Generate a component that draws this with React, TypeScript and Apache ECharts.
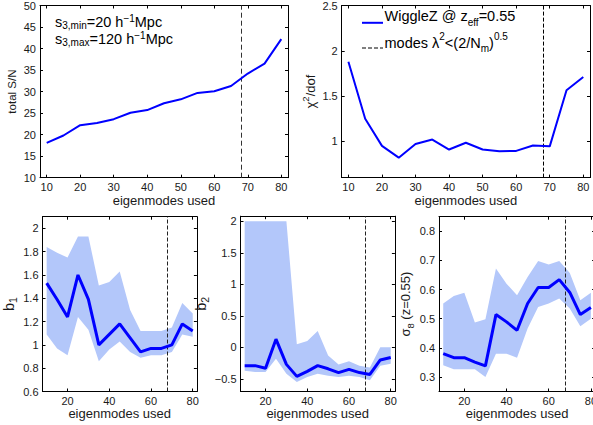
import { useEffect, useRef } from "react";
import * as echarts from "echarts";

// ---------- data ----------
const modes = [10, 15, 20, 25, 30, 35, 40, 45, 50, 55, 60, 65, 70, 75, 80];
const totalSN = [18.1, 19.8, 22.2, 22.7, 23.6, 25.1, 25.7, 27.3, 28.2, 29.7, 30.1, 31.3, 34.2, 36.5, 42.2];
const chi2dof = [1.88, 1.25, 0.95, 0.82, 0.97, 1.02, 0.91, 0.985, 0.91, 0.89, 0.895, 0.955, 0.945, 1.565, 1.71];

const b1 = [1.53, 1.39, 1.24, 1.6, 1.39, 1.0, 1.09, 1.18, 1.06, 0.94, 0.97, 0.97, 1.0, 1.18, 1.12];
const b1Upper = [1.84, 1.79, 1.75, 1.93, 1.93, 1.51, 1.54, 1.63, 1.3, 1.12, 1.12, 1.12, 1.15, 1.36, 1.27];
const b1Lower = [1.09, 0.97, 0.91, 1.24, 1.13, 0.86, 0.96, 1.03, 0.94, 0.89, 0.91, 0.91, 0.94, 1.09, 1.07];

const b2 = [-0.29, -0.29, -0.33, 0.13, -0.27, -0.46, -0.38, -0.29, -0.34, -0.4, -0.35, -0.4, -0.43, -0.2, -0.16];
const b2Upper = [2, 2, 2, 2, 2, 0.05, 0.1, 0.26, -0.13, -0.27, -0.22, -0.29, -0.32, 0, 0];
const b2Lower = [-0.37, -0.39, -0.39, -0.18, -0.42, -0.55, -0.47, -0.42, -0.45, -0.47, -0.45, -0.47, -0.52, -0.29, -0.26];

const sigma8 = [0.38, 0.366, 0.366, 0.351, 0.338, 0.514, 0.489, 0.46, 0.552, 0.607, 0.607, 0.634, 0.59, 0.514, 0.538];
const s8Upper = [0.552, 0.578, 0.589, 0.487, 0.498, 0.672, 0.62, 0.58, 0.643, 0.698, 0.686, 0.698, 0.657, 0.563, 0.589];
const s8Lower = [0.34, 0.326, 0.326, 0.326, 0.3, 0.38, 0.38, 0.366, 0.466, 0.54, 0.552, 0.569, 0.535, 0.474, 0.5];

const modeCut = 68;

const xTicksTop = [10, 20, 30, 40, 50, 60, 70, 80];
const xTicksBottom = [20, 40, 60, 80];
const snTicks = [10, 15, 20, 25, 30, 35, 40, 45, 50];
const chiTicks = [1, 1.5, 2, 2.5];
const b1Ticks = [0.6, 0.8, 1, 1.2, 1.4, 1.6, 1.8, 2];
const b2Ticks = [-0.5, 0, 0.5, 1, 1.5, 2];
const s8Ticks = [0.3, 0.4, 0.5, 0.6, 0.7, 0.8];

// ---------- styling ----------
const FONT = "'Liberation Sans', Arial, Helvetica, sans-serif";
const TXT = "#1a1a1a";
const BLUE = "#0000ff";
const BAND = "#b3c7fa";

// rich-text styles with sub/superscripts: main line height L, sub/sup token heights place them
const makeRich = (F: number, S: number, L: number, subH: number, supH: number) => ({
  a: { fontSize: F, fontFamily: FONT, color: TXT, lineHeight: L, verticalAlign: "middle" },
  sub: { fontSize: S, fontFamily: FONT, color: TXT, lineHeight: subH, verticalAlign: "bottom" },
  sup: { fontSize: S, fontFamily: FONT, color: TXT, lineHeight: supH, verticalAlign: "top" },
});
const richNote = makeRich(14.5, 10, 22, 10, 12);
const richNote2 = makeRich(14.5, 10, 17, 5, 7);
const richAxis = makeRich(13, 9.5, 20, 9.2, 8.8);
const richAxisB = makeRich(14.5, 10.5, 20, 9.2, 8.8);
const richAxisSmall = makeRich(11.5, 9, 16, 8, 8);

const pairs = (ys: number[]) => modes.map((m, k) => [m, ys[k]]);
const fmt = (v: number) => String(v).replace("-", "\u2212");

type Panel = {
  grid: { left: number; top: number; width: number; height: number };
  xTicks: number[];
  yMin: number;
  yMax: number;
  yTicks: number[];
  yName: string;
  yRich: any;
  yNameGap: number;
  xNameGap: number;
};

const panels: Panel[] = [
  { grid: { left: 40, top: 4, width: 248, height: 173.7 }, xTicks: xTicksTop, yMin: 10, yMax: 50, yTicks: snTicks, yName: "{a|total S/N}", yRich: richAxisSmall, yNameGap: 20, xNameGap: 14 },
  { grid: { left: 341.7, top: 4.3, width: 248.3, height: 173.3 }, xTicks: xTicksTop, yMin: 0.6, yMax: 2.5, yTicks: chiTicks, yName: "{a|\u03c7}{sup|2}{a|/dof}", yRich: richAxis, yNameGap: 21, xNameGap: 14 },
  { grid: { left: 40.3, top: 216.7, width: 156.6, height: 174.8 }, xTicks: xTicksBottom, yMin: 0.6, yMax: 2.1, yTicks: b1Ticks, yName: "{a|b}{sub|1}", yRich: richAxisB, yNameGap: 24, xNameGap: 13 },
  { grid: { left: 240.5, top: 216.2, width: 154.4, height: 175.3 }, xTicks: xTicksBottom, yMin: -0.7, yMax: 2.08, yTicks: b2Ticks, yName: "{a|b}{sub|2}", yRich: richAxisB, yNameGap: 24, xNameGap: 13 },
  { grid: { left: 439, top: 216.7, width: 157, height: 174.8 }, xTicks: xTicksBottom, yMin: 0.25, yMax: 0.85, yTicks: s8Ticks, yName: "{a|\u03c3}{sub|8}{a| (z=0.55)}", yRich: richAxis, yNameGap: 22, xNameGap: 13 },
];

function buildOption() {
  const grids: any[] = [];
  const xAxes: any[] = [];
  const yAxes: any[] = [];
  const axisLine = { show: true, onZero: false, lineStyle: { color: "#000", width: 1 } };
  const labelStyle = { fontSize: 11, fontFamily: FONT, color: TXT };

  panels.forEach((p, i) => {
    grids.push({ ...p.grid, containLabel: false, show: false });
    const tick = (vals: number[]) => ({ show: true, inside: true, length: 3, customValues: vals, lineStyle: { color: "#000", width: 1 } });
    xAxes.push({
      type: "value", gridIndex: i, position: "bottom", min: 8, max: 82,
      axisLine, axisTick: tick(p.xTicks), splitLine: { show: false },
      axisLabel: { ...labelStyle, margin: 4, customValues: p.xTicks, formatter: fmt },
      name: "eigenmodes used", nameLocation: "middle", nameGap: p.xNameGap,
      nameTextStyle: { fontSize: 13, fontFamily: FONT, color: TXT },
    });
    xAxes.push({
      type: "value", gridIndex: i, position: "top", min: 8, max: 82,
      axisLine, axisTick: tick(p.xTicks), splitLine: { show: false }, axisLabel: { show: false },
    });
    yAxes.push({
      type: "value", gridIndex: i, position: "left", min: p.yMin, max: p.yMax,
      axisLine, axisTick: tick(p.yTicks), splitLine: { show: false },
      axisLabel: { ...labelStyle, margin: 4, customValues: p.yTicks, formatter: fmt },
      name: p.yName, nameLocation: "middle", nameGap: p.yNameGap, nameRotate: 90,
      nameTextStyle: { rich: p.yRich },
    });
    yAxes.push({
      type: "value", gridIndex: i, position: "right", min: p.yMin, max: p.yMax,
      axisLine, axisTick: tick(p.yTicks), splitLine: { show: false }, axisLabel: { show: false },
    });
  });

  const cutLine = (dash: number[], color: string) => ({
    silent: true, symbol: ["none", "none"], label: { show: false },
    lineStyle: { type: dash, color, width: 1 },
    emphasis: { disabled: true },
    data: [{ xAxis: modeCut }],
  });

  const mainLine = (i: number, ys: number[], width: number, dash: number[], dashColor: string) => ({
    type: "line", xAxisIndex: 2 * i, yAxisIndex: 2 * i, data: pairs(ys),
    symbol: "none", lineStyle: { color: BLUE, width }, itemStyle: { color: BLUE },
    z: 5, markLine: cutLine(dash, dashColor),
  });

  // error band: one polygon through the axis scales (upper edge forward, lower edge back)
  const band = (i: number, lo: number[], hi: number[]) => ({
    type: "custom", xAxisIndex: 2 * i, yAxisIndex: 2 * i, silent: true, z: 1,
    data: modes.map((m, k) => [m, lo[k], hi[k]]),
    encode: { x: 0, y: [1, 2] },
    renderItem: (params: any, api: any) => {
      if (params.dataIndex !== 0) return null;
      const upper = modes.map((m, k) => api.coord([m, hi[k]]));
      const lower = modes.map((m, k) => api.coord([m, lo[k]])).reverse();
      return {
        type: "polygon",
        shape: { points: upper.concat(lower) },
        style: { fill: BAND, stroke: "none" },
      };
    },
  });

  const series: any[] = [
    mainLine(0, totalSN, 2, [5, 3], "#333"),
    mainLine(1, chi2dof, 2, [4, 2], "#000"),
    band(2, b1Lower, b1Upper),
    mainLine(2, b1, 3, [4, 2], "#222"),
    band(3, b2Lower, b2Upper),
    mainLine(3, b2, 3, [4, 2], "#222"),
    band(4, s8Lower, s8Upper),
    mainLine(4, sigma8, 3, [4, 2], "#222"),
  ];

  const graphic: any[] = [
    {
      type: "text", x: 55, y: 30.8,
      style: {
        text: "{a|s}{sub|3,min}{a|=20 h}{sup|\u22121}{a|Mpc}\n{a|s}{sub|3,max}{a|=120 h}{sup|\u22121}{a|Mpc}",
        rich: richNote2, verticalAlign: "middle", align: "left",
      },
    },
    { type: "line", shape: { x1: 362, y1: 22.8, x2: 383, y2: 22.8 }, style: { stroke: BLUE, lineWidth: 2 } },
    { type: "line", shape: { x1: 362, y1: 48, x2: 383, y2: 48 }, style: { stroke: "#000", lineWidth: 1, lineDash: [4, 2] } },
    {
      type: "text", x: 384.5, y: 16.3,
      style: { text: "{a|WiggleZ @ z}{sub|eff}{a|=0.55}", rich: richNote, verticalAlign: "middle", align: "left" },
    },
    {
      type: "text", x: 384.5, y: 42.5,
      style: { text: "{a|modes \u03bb}{sup|2}{a|<(2/N}{sub|m}{a|)}{sup|0.5}", rich: richNote, verticalAlign: "middle", align: "left" },
    },
  ];

  return {
    animation: false,
    backgroundColor: "#fff",
    grid: grids,
    xAxis: xAxes,
    yAxis: yAxes,
    series,
    graphic,
  };
}

export default function App() {
  const ref = useRef<HTMLDivElement>(null);
  useEffect(() => {
    if (!ref.current) return;
    const chart = echarts.init(ref.current, undefined, { renderer: "svg" });
    chart.setOption(buildOption() as any);
    return () => chart.dispose();
  }, []);
  return (
    <div style={{ position: "fixed", left: 0, top: 0, width: 593, height: 425, overflow: "hidden", background: "#fff" }}>
      <div ref={ref} style={{ width: 600, height: 425 }} />
    </div>
  );
}
